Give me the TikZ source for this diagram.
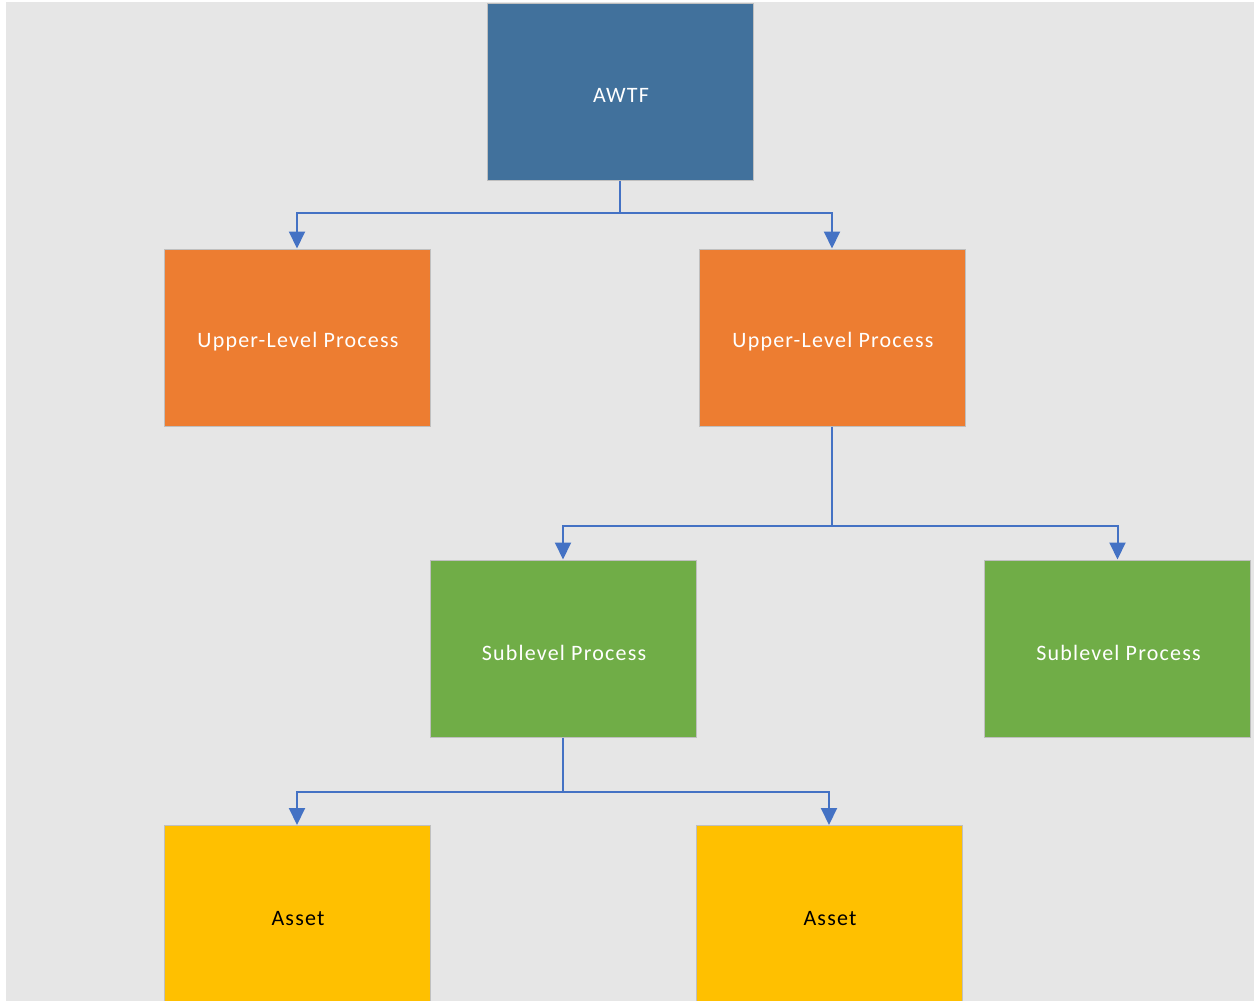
\documentclass[tikz,border=0pt]{standalone}
\usepackage{fontspec}
\setmainfont{Carlito}[LetterSpace=5.5]
\usetikzlibrary{arrows.meta}
\definecolor{bgray}{HTML}{E6E6E6}
\definecolor{topblue}{HTML}{41719C}
\definecolor{upperorange}{HTML}{ED7D31}
\definecolor{subgreen}{HTML}{70AD47}
\definecolor{assetyellow}{HTML}{FFC000}
\definecolor{linkblue}{HTML}{4472C4}
\definecolor{edgegray}{HTML}{BFBFBF}
\begin{document}
\begin{tikzpicture}[x=1pt,y=-1pt,
  box/.style={draw=edgegray,line width=1pt,minimum width=266pt,minimum height=177pt,
    inner sep=0pt,font=\fontsize{22}{25}\selectfont,text=white},
  label/.style={font=\fontsize{22}{25}\selectfont,inner sep=0pt},
  link/.style={draw=linkblue,line width=2pt},
  tip/.style={-{Triangle[length=17pt,width=16pt]}}]
  \useasboundingbox (0,0) rectangle (1254,1001);
  \fill[white] (0,0) rectangle (1254,1001);
  \fill[bgray] (6,2) rectangle (1254,1001);

  % tree boxes
  \node[box,fill=topblue] (awtf) at (620,91.5) {};
  \node[box,fill=upperorange] (up1) at (297,337.5) {};
  \node[box,fill=upperorange] (up2) at (832,337.5) {};
  \node[box,fill=subgreen] (sub1) at (563,648.5) {};
  \node[box,fill=subgreen] (sub2) at (1117.5,648.5) {};
  \begin{scope}
    \clip (0,0) rectangle (1254,1001);
    \node[box,fill=assetyellow,minimum height=200pt,anchor=north] (as1) at (297,825) {};
    \node[box,fill=assetyellow,minimum height=200pt,anchor=north] (as2) at (829,825) {};
  \end{scope}

  % box captions
  \node[label,text=white] (awtft) at (621,95.5) {AWTF};
  \node[label,text=white] (up1t) at (298,341.5) {Upper-Level Process};
  \node[label,text=white] (up2t) at (833,341.5) {Upper-Level Process};
  \node[label,text=white] (sub1t) at (564,652.5) {Sublevel Process};
  \node[label,text=white] (sub2t) at (1118.5,652.5) {Sublevel Process};
  \node[label,text=black] (as1t) at (298,918.5) {Asset};
  \node[label,text=black] (as2t) at (830,918.5) {Asset};

  % branch connectors
  \coordinate (j1) at (620,213);
  \draw[link] (awtf.south) -- (j1);
  \draw[link,tip] (j1) -| (up1.north);
  \draw[link,tip] (j1) -| (up2.north);

  \coordinate (j2) at (832,526);
  \draw[link] (up2.south) -- (j2);
  \draw[link,tip] (j2) -| (sub1.north);
  \draw[link,tip] (j2) -| (sub2.north);

  \coordinate (j3) at (563,792);
  \draw[link] (sub1.south) -- (j3);
  \draw[link,tip] (j3) -| (as1.north);
  \draw[link,tip] (j3) -| (as2.north);
\end{tikzpicture}
\end{document}
